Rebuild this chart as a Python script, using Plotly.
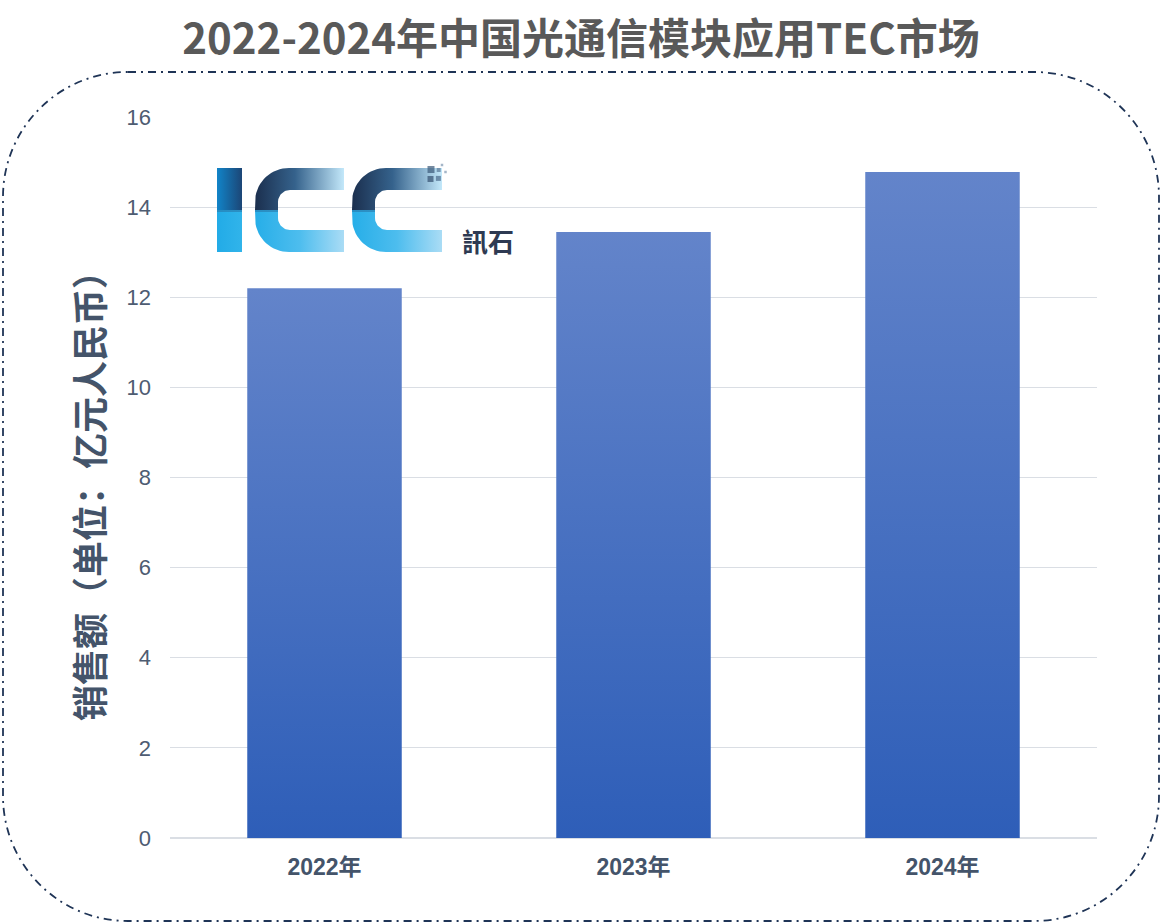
import numpy as np
import plotly.graph_objects as go

# ---------------- data ----------------
years = ["2022年", "2023年", "2024年"]
sales = [12.2, 13.45, 14.78]
y_tick_values = [0, 2, 4, 6, 8, 10, 12, 14, 16]

TITLE = "2022-2024年中国光通信模块应用TEC市场"
Y_TITLE = "销售额（单位：亿元人民币）"
LOGO_TEXT = "訊石"

# ---------------- geometry ----------------
W, H = 1162, 924
L, R, T, B = 170, 1097, 117, 838   # plot area in pixels


def px(x):
    return (x - L) / (R - L)


def py(y):
    return (B - y) / (B - T)


fig = go.Figure()

# ---------------- gradient bars ----------------
half = 0.25
for i, (yr, v) in enumerate(zip(years, sales)):
    fig.add_trace(go.Scatter(
        x=[i - half, i + half, i + half, i - half, i - half],
        y=[0, 0, v, v, 0],
        mode="lines", fill="toself",
        line=dict(width=0, color="rgba(0,0,0,0)"),
        fillgradient=dict(type="vertical",
                          colorscale=[[0, "#2e5eb8"], [1, "#6384ca"]]),
        name=yr, showlegend=False, hoverinfo="text", text=f"{yr}: {v}"))

# ---------------- logo (pixel overlay axes) ----------------
def arc(cx, cy, rx, ry, a0, a1, n=18):
    a = np.radians(np.linspace(a0, a1, n))
    return list(cx + rx * np.cos(a)), list(cy - ry * np.sin(a))


def c_half(x0, x1, y0, ym, tx, ty, ro, ri, top=True):
    xs, ys = [x0], [ym]
    ax, ay = arc(x0 + ro, y0 + ro, ro, ro, 180, 90)
    xs += ax; ys += ay
    xs += [x1, x1, x0 + tx + ri]
    ys += [y0, y0 + ty, y0 + ty]
    bx, by = arc(x0 + tx + ri, y0 + ty + ri, ri, ri, 90, 180)
    xs += bx; ys += by
    xs += [x0 + tx, x0]
    ys += [ym, ym]
    if not top:
        ys = [2 * ym - y for y in ys]
    return xs, ys


def add_shape_trace(xs, ys, scale, orient="horizontal"):
    fig.add_trace(go.Scatter(
        x=xs, y=ys, xaxis="x2", yaxis="y2", mode="lines", fill="toself",
        line=dict(width=0, color="rgba(0,0,0,0)"),
        fillgradient=dict(type=orient, colorscale=scale),
        hoverinfo="skip", showlegend=False))


TOP_SCALE = [[0, "#1b2f4e"], [0.45, "#35628c"], [1, "#c3e8fa"]]
BOT_SCALE = [[0, "#26aee8"], [0.5, "#4dbdee"], [1, "#aadcf5"]]

# I
add_shape_trace([217, 242, 242, 217, 217], [168, 168, 210, 210, 168],
                [[0, "#1184c8"], [1, "#1c4676"]])
add_shape_trace([217, 242, 242, 217, 217], [210, 210, 252, 252, 210],
                [[0, "#22abe7"], [1, "#31b4ea"]])
# C letters
for x0, x1 in [(255, 344), (352, 442)]:
    xs, ys = c_half(x0, x1, 168, 210, 23, 22, 34, 12, top=True)
    add_shape_trace(xs, ys, TOP_SCALE)
    xs, ys = c_half(x0, x1, 168, 210, 23, 22, 34, 12, top=False)
    add_shape_trace(xs, ys, BOT_SCALE)

# separator lines on the vertical stems
for xa, xb in [(217, 242), (255, 278), (352, 375)]:
    fig.add_trace(go.Scatter(
        x=[xa, xb], y=[211, 211], xaxis="x2", yaxis="y2", mode="lines",
        line=dict(width=2, color="rgba(40,120,170,0.6)"),
        hoverinfo="skip", showlegend=False))

# small squares
fig.add_trace(go.Scatter(
    x=[431, 438.7, 430.5, 438.4, 442, 445.5],
    y=[169.5, 170, 179, 178.4, 165, 172],
    xaxis="x2", yaxis="y2", mode="markers",
    marker=dict(symbol="square", size=[7, 4, 6, 5, 2.5, 2.5],
                color=["#3a5878", "#5a7896", "#34506f", "#4a6a8a", "#7d97b0", "#7d97b0"],
                line=dict(width=0)),
    hoverinfo="skip", showlegend=False))

fig.add_annotation(x=488, y=240, xref="x2", yref="y2", text=LOGO_TEXT,
                   showarrow=False, xanchor="center", yanchor="middle",
                   font=dict(family="Noto Sans CJK TC", size=26, color="#2e3a52",
                             weight="bold"))

# ---------------- border (rounded dash-dot rectangle) ----------------
bl, br, bt, bb, rad = 3, 1159, 72, 921, 125
k = 0.5523 * rad


def P(x, y):
    return f"{px(x):.5f},{py(y):.5f}"


path = (
    f"M {P(bl + rad, bt)} L {P(br - rad, bt)} "
    f"C {P(br - rad + k, bt)} {P(br, bt + rad - k)} {P(br, bt + rad)} "
    f"L {P(br, bb - rad)} "
    f"C {P(br, bb - rad + k)} {P(br - rad + k, bb)} {P(br - rad, bb)} "
    f"L {P(bl + rad, bb)} "
    f"C {P(bl + rad - k, bb)} {P(bl, bb - rad + k)} {P(bl, bb - rad)} "
    f"L {P(bl, bt + rad)} "
    f"C {P(bl, bt + rad - k)} {P(bl + rad - k, bt)} {P(bl + rad, bt)} Z"
)
fig.add_shape(type="path", path=path, xref="paper", yref="paper",
              line=dict(color="#1f3456", width=1.8, dash="8px,5px,2px,5px"),
              layer="above")

# ---------------- titles ----------------
fig.add_annotation(x=px(88), y=py(487), xref="paper", yref="paper",
                   xanchor="center", yanchor="middle",
                   text=Y_TITLE, textangle=-90, showarrow=False,
                   font=dict(family="Noto Sans CJK SC", size=36, color="#44546a",
                             weight="bold"))

fig.update_layout(
    width=W, height=H,
    margin=dict(l=L, r=W - R, t=T, b=H - B, pad=0),
    paper_bgcolor="white", plot_bgcolor="white",
    title=dict(text=TITLE, x=0.5, xref="container", xanchor="center",
               y=1 - 39 / H, yref="container", yanchor="middle",
               font=dict(family="Noto Sans CJK SC", size=42, color="#595959",
                         weight="bold")),
    showlegend=False,
    xaxis=dict(range=[-0.5, 2.5], tickmode="array", tickvals=list(range(len(years))),
               ticktext=years, showgrid=False, zeroline=False, showline=False,
               ticks="", ticklabelstandoff=13, fixedrange=True,
               tickfont=dict(family="Liberation Sans, Noto Sans CJK SC", size=23,
                             color="#44546a", weight="bold")),
    yaxis=dict(range=[0, 16], tickmode="array", tickvals=y_tick_values,
               showgrid=True, gridcolor="#dadee4", gridwidth=1.3,
               zeroline=True, zerolinecolor="#dadee4", zerolinewidth=2,
               showline=False, ticks="", ticklabelstandoff=18, fixedrange=True,
               tickfont=dict(family="Liberation Sans", size=22, color="#4e5c72")),
    xaxis2=dict(overlaying="x", range=[L, R], visible=False, fixedrange=True),
    yaxis2=dict(overlaying="y", range=[B, T], visible=False, fixedrange=True),
)

fig.write_html("out.html", config={"displayModeBar": False},
               post_script="document.body.style.margin='0';document.body.style.overflow='hidden';")
